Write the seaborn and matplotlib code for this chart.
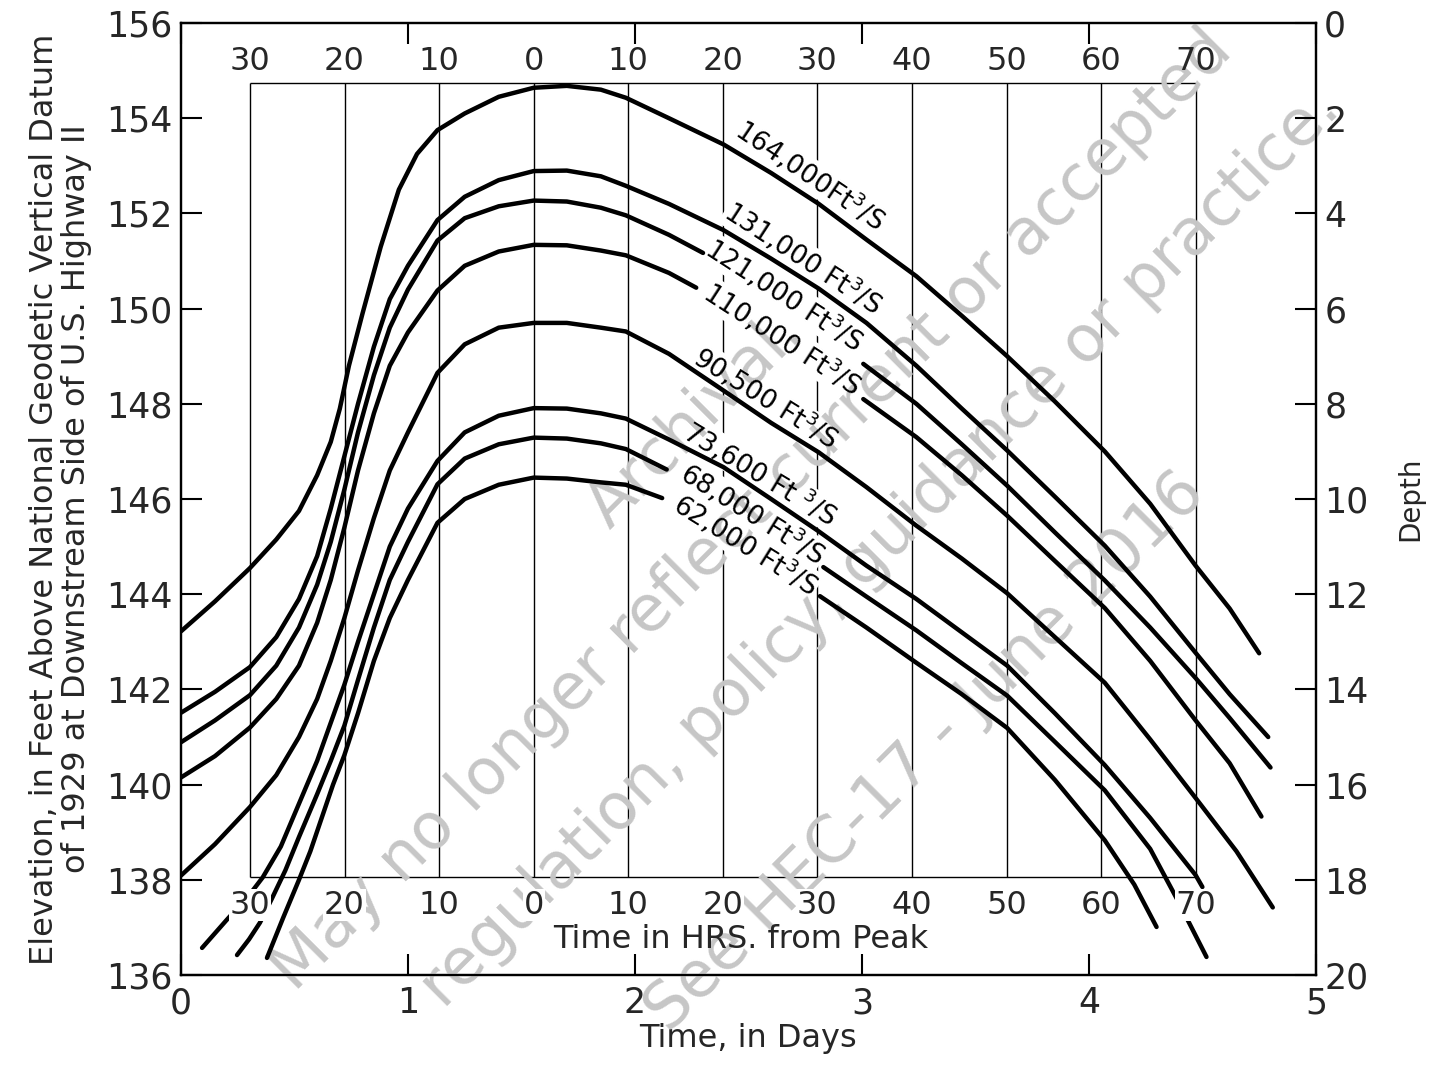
import matplotlib
matplotlib.use("Agg")
import matplotlib.pyplot as plt
import numpy as np
import pandas as pd
import seaborn as sns

nan = np.nan

# stage hydrographs (time in days, elevation in ft); nan = break for the label
days_164 = [0.00, 0.15, 0.304, 0.42, 0.52, 0.60, 0.66, 0.70, 0.74, 0.80, 0.88, 0.96, 1.04, 1.13, 1.25, 1.40, 1.554, 1.70, 1.85, 1.96, 2.15, 2.39, 2.60, 2.81, 3.02, 3.24, 3.44, 3.64, 3.85, 4.07, 4.27, 4.47, 4.62, 4.75]
elev_164 = [143.22, 143.85, 144.55, 145.15, 145.75, 146.5, 147.2, 147.9, 148.8, 149.9, 151.3, 152.5, 153.25, 153.75, 154.1, 154.45, 154.64, 154.68, 154.6, 154.43, 154.0, 153.45, 152.85, 152.2, 151.45, 150.68, 149.85, 149.0, 148.05, 147.0, 145.9, 144.6, 143.7, 142.76]

days_131 = [0.00, 0.15, 0.304, 0.42, 0.52, 0.60, 0.66, 0.72, 0.78, 0.85, 0.92, 1.00, 1.13, 1.25, 1.40, 1.554, 1.70, 1.85, 1.96, 2.15, 2.39, 2.60, 2.81, 3.02, 3.24, 3.44, 3.64, 3.85, 4.07, 4.27, 4.47, 4.62, 4.79]
elev_131 = [141.51, 141.95, 142.47, 143.1, 143.9, 144.8, 145.8, 146.9, 148.0, 149.2, 150.2, 150.9, 151.86, 152.35, 152.7, 152.89, 152.9, 152.78, 152.58, 152.2, 151.65, 151.05, 150.42, 149.7, 148.8, 147.9, 147.02, 146.05, 145.02, 143.95, 142.77, 141.9, 141.0]

days_121 = [0.00, 0.15, 0.304, 0.42, 0.52, 0.60, 0.66, 0.72, 0.78, 0.85, 0.92, 1.00, 1.13, 1.25, 1.40, 1.554, 1.70, 1.85, 1.96, 2.15, 2.30, nan, 3.006, 3.24, 3.44, 3.64, 3.85, 4.07, 4.27, 4.47, 4.62, 4.80]
elev_121 = [140.89, 141.35, 141.88, 142.5, 143.3, 144.2, 145.1, 146.2, 147.4, 148.6, 149.6, 150.4, 151.43, 151.9, 152.15, 152.27, 152.25, 152.12, 151.96, 151.55, 151.17, nan, 148.84, 148.0, 147.15, 146.28, 145.3, 144.29, 143.3, 142.24, 141.4, 140.36]

days_110 = [0.00, 0.15, 0.304, 0.42, 0.52, 0.60, 0.66, 0.72, 0.78, 0.85, 0.92, 1.00, 1.13, 1.25, 1.40, 1.554, 1.70, 1.85, 1.96, 2.15, 2.27, nan, 3.006, 3.24, 3.44, 3.64, 3.85, 4.07, 4.27, 4.47, 4.62, 4.76]
elev_110 = [140.15, 140.6, 141.2, 141.8, 142.5, 143.4, 144.3, 145.4, 146.6, 147.8, 148.8, 149.5, 150.38, 150.9, 151.2, 151.34, 151.33, 151.22, 151.12, 150.75, 150.44, nan, 148.1, 147.3, 146.5, 145.65, 144.7, 143.71, 142.6, 141.35, 140.45, 139.33]

days_905 = [0.00, 0.15, 0.304, 0.42, 0.52, 0.60, 0.66, 0.72, 0.78, 0.85, 0.92, 1.00, 1.13, 1.25, 1.40, 1.554, 1.70, 1.85, 1.96, 2.15, 2.39, 2.60, 2.81, 3.02, 3.24, 3.44, 3.64, 3.85, 4.07, 4.27, 4.47, 4.65, 4.81]
elev_905 = [138.09, 138.75, 139.53, 140.2, 141.0, 141.8, 142.6, 143.5, 144.5, 145.6, 146.6, 147.4, 148.65, 149.25, 149.6, 149.70, 149.7, 149.6, 149.52, 149.05, 148.28, 147.6, 146.98, 146.25, 145.44, 144.75, 144.02, 143.1, 142.14, 140.95, 139.72, 138.6, 137.42]

days_736 = [0.093, 0.20, 0.304, 0.36, 0.44, 0.52, 0.60, 0.66, 0.72, 0.78, 0.85, 0.92, 1.00, 1.13, 1.25, 1.40, 1.554, 1.70, 1.85, 1.96, 2.15, 2.39, 2.60, 2.81, 3.02, 3.24, 3.44, 3.64, 3.85, 4.07, 4.27, 4.47, 4.50]
elev_736 = [136.57, 137.15, 137.7, 138.05, 138.7, 139.6, 140.5, 141.3, 142.1, 143.0, 144.0, 145.0, 145.8, 146.8, 147.4, 147.75, 147.91, 147.9, 147.8, 147.69, 147.25, 146.67, 146.0, 145.32, 144.6, 143.9, 143.2, 142.5, 141.5, 140.41, 139.3, 138.1, 137.85]

days_68 = [0.247, 0.30, 0.348, 0.40, 0.46, 0.52, 0.60, 0.66, 0.72, 0.78, 0.85, 0.92, 1.00, 1.13, 1.25, 1.40, 1.554, 1.70, 1.85, 1.96, 2.14, nan, 2.83, 3.02, 3.24, 3.44, 3.64, 3.85, 4.07, 4.27, 4.39, 4.518]
elev_68 = [136.42, 136.75, 137.1, 137.6, 138.2, 138.9, 139.8, 140.5, 141.24, 142.2, 143.3, 144.3, 145.1, 146.31, 146.85, 147.15, 147.29, 147.27, 147.17, 147.05, 146.62, nan, 144.57, 143.95, 143.24, 142.55, 141.87, 140.9, 139.88, 138.65, 137.58, 136.38]

days_62 = [0.379, 0.45, 0.52, 0.57, 0.62, 0.67, 0.72, 0.78, 0.85, 0.92, 1.00, 1.13, 1.25, 1.40, 1.554, 1.70, 1.85, 1.96, 2.12, nan, 2.815, 3.02, 3.24, 3.44, 3.64, 3.85, 4.07, 4.20, 4.298]
elev_62 = [136.36, 137.2, 138.0, 138.6, 139.3, 140.0, 140.62, 141.5, 142.6, 143.5, 144.3, 145.5, 146.0, 146.3, 146.45, 146.43, 146.35, 146.3, 146.02, nan, 143.96, 143.3, 142.56, 141.9, 141.19, 140.1, 138.83, 137.9, 137.01]

curve_labels = ["164,000Ft$^3$/S", "131,000 Ft$^3$/S", "121,000 Ft$^3$/S", "110,000 Ft$^3$/S",
                "90,500 Ft$^3$/S", "73,600 Ft $^3$/S", "68,000 Ft$^3$/S", "62,000 Ft$^3$/S"]
curve_days = [days_164, days_131, days_121, days_110, days_905, days_736, days_68, days_62]
curve_elev = [elev_164, elev_131, elev_121, elev_110, elev_905, elev_736, elev_68, elev_62]

hours = [-30, -20, -10, 0, 10, 20, 30, 40, 50, 60, 70]
day_ticks = [0, 1, 2, 3, 4, 5]
elev_ticks = list(range(136, 157, 2))
depth_ticks = list(range(0, 21, 2))

# layout
peak_day = 1.554
box_bottom, box_top = 138.05, 154.75
label_pos = [(2.771, 152.81), (2.740, 151.06), (2.656, 150.29), (2.648, 149.36),
             (2.577, 148.12), (2.551, 146.53), (2.520, 145.68), (2.489, 145.03)]
label_rot = [-34, -33, -33, -33, -32, -31, -32, -32]

sns.set_theme(style="ticks")
plt.rcParams["font.family"] = ["DejaVu Sans"]

fig = plt.figure(figsize=(14.35, 10.71), dpi=100)
ax = fig.add_axes([0.1261, 0.0896, 0.7909, 0.8889])

# archival watermark, above the grid but under the black ink
wm = [("Archival.", 695, 420), ("May no longer reflect current or accepted", 752, 510),
      ("regulation, policy, guidance or practice.", 880, 548), ("See HEC-17 - June 2016", 925, 752)]
for txt, px, py in wm:
    ax.text(px / 1435, 1 - py / 1071, txt, transform=fig.transFigure, rotation=45,
            rotation_mode="anchor", ha="center", va="center", fontsize=46,
            color="#c6c6c6", zorder=4, clip_on=False)

# inner hour grid
grid_x = [peak_day + h / 24 for h in hours]
ax.vlines(grid_x, box_bottom, box_top, color="black", lw=1.0, zorder=1)
ax.hlines([box_bottom, box_top], grid_x[0], grid_x[-1], color="black", lw=1.0, zorder=1)
for h, gx in zip(hours, grid_x):
    ax.text(gx, 155.2, str(abs(h)), ha="center", va="center", fontsize=23, zorder=6)
    ax.text(gx, 137.47, str(abs(h)), ha="center", va="center", fontsize=23, zorder=6,
            bbox=dict(facecolor="white", edgecolor="none", pad=0.5))
ax.text(2.467, 136.74, "Time in HRS. from Peak", ha="center", va="center", fontsize=23, zorder=6)

for lab, d, e, (lx, ly), rot in zip(curve_labels, curve_days, curve_elev, label_pos, label_rot):
    df = pd.DataFrame({"days": d, "elev": e})
    df["seg"] = df["days"].isna().cumsum()
    df = df.dropna()
    sns.lineplot(data=df, x="days", y="elev", units="seg", estimator=None, ax=ax,
                 color="black", lw=3.2, sort=False, zorder=5)
    # white patch under the label cuts the grid lines, then the label itself on top
    ax.text(lx, ly, lab, rotation=rot, rotation_mode="anchor", ha="center", va="center",
            fontsize=19, color="white", zorder=1.5,
            bbox=dict(facecolor="white", edgecolor="none", pad=0.3))
    ax.text(lx, ly, lab, rotation=rot, rotation_mode="anchor", ha="center", va="center",
            fontsize=19, color="black", zorder=6)

ax.set_xlim(0, 5)
ax.set_ylim(136, 156)
ax.set_xticks(day_ticks)
ax.set_yticks(elev_ticks)
ax.tick_params(direction="in", length=15, width=1.5, labelsize=25, top=True, labeltop=False, color="black")
ax.tick_params(axis="x", pad=8)
ax.tick_params(axis="y", pad=6, right=False)
ax.set_xlabel("Time, in Days", fontsize=23, labelpad=2)
ax.set_ylabel("Elevation, in Feet Above National Geodetic Vertical Datum\nof 1929 at Downstream Side of U.S. Highway II",
              fontsize=23, labelpad=10, linespacing=1.05)
for s in ax.spines.values():
    s.set_linewidth(1.6)
    s.set_color("black")

ax2 = ax.twinx()
ax2.set_ylim(20, 0)
ax2.set_yticks(depth_ticks)
ax2.tick_params(direction="in", length=15, width=1.5, labelsize=25, pad=6, color="black")
ax2.set_ylabel("Depth", fontsize=20, labelpad=20)
for s in ax2.spines.values():
    s.set_linewidth(1.6)
    s.set_color("black")

fig.savefig("out.png", dpi=100, facecolor="white")
